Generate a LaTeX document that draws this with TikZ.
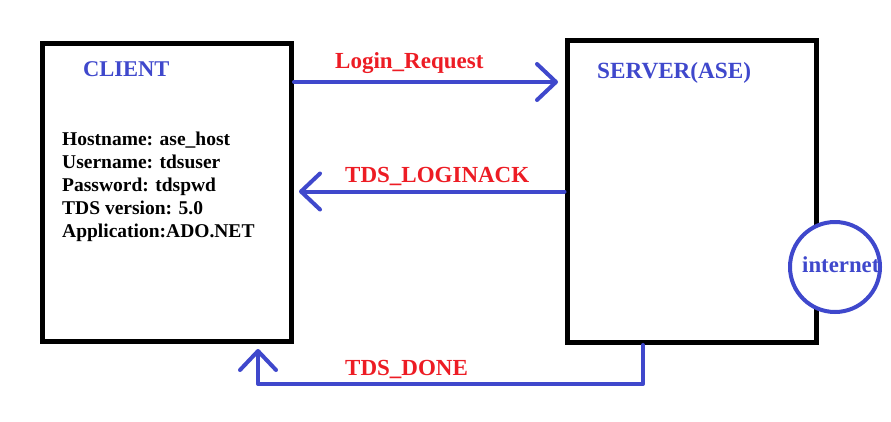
\documentclass[tikz,border=0pt]{standalone}
\usepackage{fontspec}
\setmainfont{Liberation Serif}
\usetikzlibrary{arrows.meta,calc}
\definecolor{pblue}{RGB}{63,72,204}
\definecolor{pred}{RGB}{237,28,36}
\tikzset{
  box/.style={draw=black, line width=5pt, minimum width=249pt, minimum height=#1, inner sep=0pt},
  conn/.style={draw=pblue, line width=4pt, line cap=round, line join=round,
    -{Straight Barb[length=19pt,width=36pt,line cap=round,line join=round]}},
  title/.style={text=pblue, font=\fontsize{#1}{26}\selectfont\bfseries, anchor=base west, inner sep=0pt},
  title/.default=22.5,
  msg/.style={text=pred, font=\fontsize{23}{26}\selectfont\bfseries, anchor=base west, inner sep=0pt},
  info/.style={text=black, font=\fontsize{19.5}{23}\selectfont\bfseries, anchor=base west, inner sep=0pt},
}
\begin{document}
\begin{tikzpicture}[x=1pt,y=-1pt]
\useasboundingbox[fill=white] (0,0) rectangle (891,421);
\node[box=298pt] (client) at (167,192.5) {};
\node[box=302pt] (server) at (691.5,191.5) {};
\node[draw=pblue, line width=4pt, fill=white, circle, minimum size=90pt, inner sep=0pt] (net) at (835,267) {};
\node[title=22.8] (nettext) at (802,272) {internet};
\node[title] (clienttitle) at (83,76) {CLIENT};
\node[title=23.2] (servertitle) at (597,78) {SERVER(ASE)};
\node[info] (l1) at (62,145) {Hostname: ase\_host};
\node[info] (l2) at (62,168) {Username: tdsuser};
\node[info] (l3) at (62,191) {Password: tdspwd};
\node[info] (l4) at (62,214) {TDS version: 5.0};
\node[info] (l5) at (62,237) {Application:ADO.NET};
\node[msg] (m1) at (335,68) {Login\_Request};
\node[msg] (m2) at (345,182) {TDS\_LOGINACK};
\node[msg] (m3) at (345,375) {TDS\_DONE};
% connectors
\coordinate (a1s) at ($(client.east |- m1.base)+(0,14)$);
\coordinate (a1e) at ($(server.west |- a1s)+(-6.5,0)$);
\draw[conn] (a1s) -- (a1e);
\coordinate (a2s) at ($(server.west |- m2.base)+(0,9.5)$);
\coordinate (a2e) at ($(client.east |- a2s)+(5,0)$);
\draw[conn] (a2s) -- (a2e);
\coordinate (a3s) at ($(server.south)+(-48.5,0)$);
\coordinate (a3e) at ($(client.south)+(91,5)$);
\draw[conn] (a3s) -- ++(0,39) -| (a3e);
\end{tikzpicture}
\end{document}
